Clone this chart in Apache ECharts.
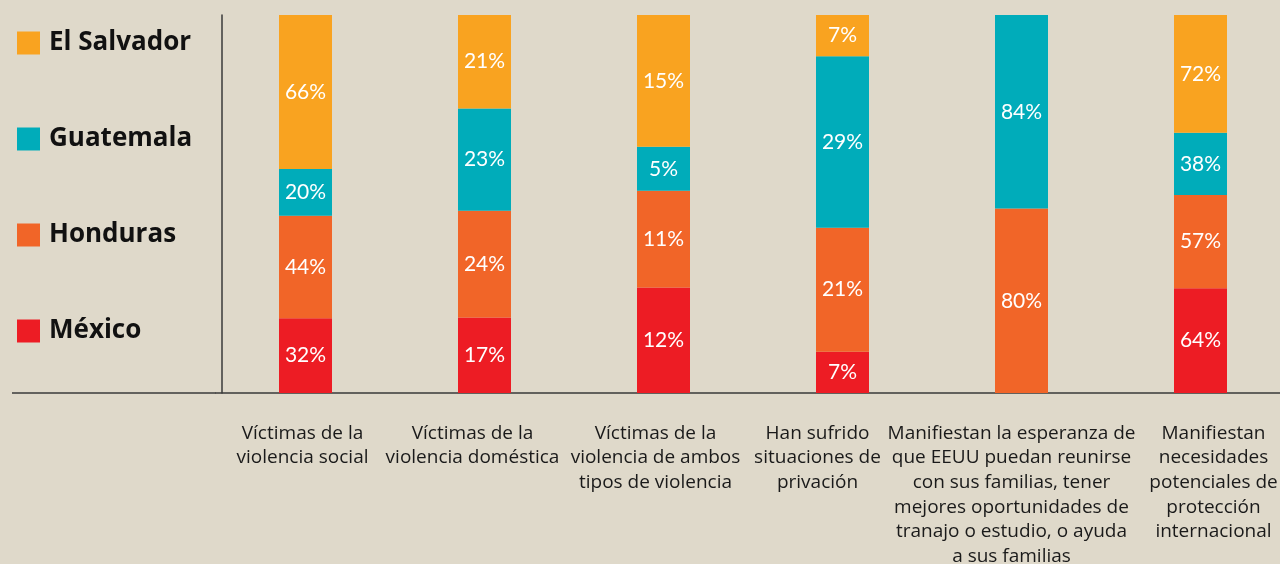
<!DOCTYPE html>
<html>
<head>
<meta charset="utf-8">
<script src="https://cdn.jsdelivr.net/npm/echarts@6/dist/echarts.min.js"></script>
<style>
html,body{margin:0;padding:0;background:#DFD9CA;}
#chart{width:1280px;height:564px;}
</style>
</head>
<body>
<div id="chart"></div>
<script>
const categories = [
  "Víctimas de la\nviolencia social",
  "Víctimas de la\nviolencia doméstica",
  "Víctimas de la\nviolencia de ambos\ntipos de violencia",
  "Han sufrido\nsituaciones de\nprivación",
  "Manifiestan la esperanza de\nque EEUU puedan reunirse\ncon sus familias, tener\nmejores oportunidades de\ntranajo o estudio, o ayuda\na sus familias",
  "Manifiestan\nnecesidades\npotenciales de\nprotección\ninternacional"
];
const mexico     = [32, 17, 12, 7, null, 64];
const honduras   = [44, 24, 11, 21, 80, 57];
const guatemala  = [20, 23, 5, 29, 84, 38];
const elSalvador = [66, 21, 15, 7, null, 72];

const seriesDefs = [
  { name: "México", values: mexico, color: "#ED1C24" },
  { name: "Honduras", values: honduras, color: "#F16528" },
  { name: "Guatemala", values: guatemala, color: "#00ACBA" },
  { name: "El Salvador", values: elSalvador, color: "#F9A320" }
];

// layout only: horizontal nudge (px) of each category label
const labelNudge = [-3, -12, -8, -25, -10, 13];

const totals = categories.map((_, i) =>
  seriesDefs.reduce((s, d) => s + (d.values[i] || 0), 0));

const chart = echarts.init(document.getElementById('chart'));
chart.setOption({
  backgroundColor: "#DFD9CA",
  animation: false,
  textStyle: { fontFamily: "Lato, 'Open Sans', sans-serif" },
  legend: {
    orient: "vertical",
    left: 12,
    top: 23,
    itemWidth: 23,
    itemHeight: 23,
    itemGap: 66,
    icon: "rect",
    data: ["El Salvador", "Guatemala", "Honduras", "México"],
    textStyle: { fontFamily: "'Open Sans', sans-serif", fontSize: 26, fontWeight: "bold", color: "#111", padding: [0, 0, 0, 4], lineHeight: 30 }
  },
  grid: { left: 216, top: 15, bottom: 171, width: 1074, outerBoundsMode: "none", containLabel: false },
  xAxis: {
    type: "category",
    data: categories.map((c, i) => {
      const n = labelNudge[i];
      return {
        value: c,
        textStyle: { padding: n < 0 ? [0, -2 * n, 0, 0] : [0, 0, 0, 2 * n] }
      };
    }),
    axisTick: { show: false },
    axisLine: { show: true, lineStyle: { color: "#3a3a3a", width: 1.5 } },
    axisLabel: {
      interval: 0,
      margin: 28,
      fontFamily: "'Open Sans', sans-serif",
      fontSize: 19,
      lineHeight: 24.6,
      color: "#1a1a1a",
      align: "center"
    }
  },
  yAxis: {
    type: "value",
    min: 0,
    max: 100,
    offset: -6,
    axisLabel: { show: false },
    axisTick: { show: false },
    splitLine: { show: false },
    axisLine: { show: true, lineStyle: { color: "#3a3a3a", width: 1.5 } }
  },
  graphic: [{
    type: "line",
    shape: { x1: 12, y1: 393, x2: 216, y2: 393 },
    style: { stroke: "#3a3a3a", lineWidth: 1.5 }
  }],
  series: seriesDefs.map(d => ({
    name: d.name,
    type: "bar",
    stack: "total",
    barWidth: 53,
    itemStyle: { color: d.color },
    data: d.values.map((v, i) => v == null ? null : v / totals[i] * 100),
    label: {
      show: true,
      position: "inside",
      color: "#fff",
      fontSize: 21,
      formatter: p => d.values[p.dataIndex] + "%"
    }
  }))
});
</script>
</body>
</html>
